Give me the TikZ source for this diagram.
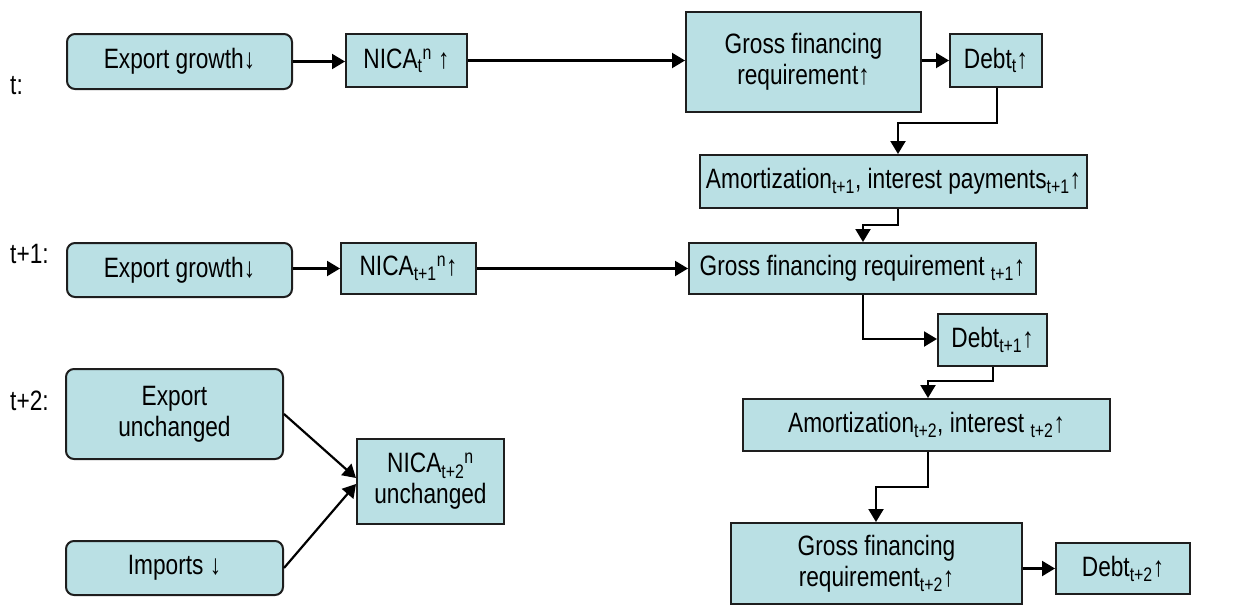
\documentclass[tikz,border=0pt]{standalone}
\usepackage{fontspec}
\setmainfont{Liberation Sans}[FakeStretch=0.81]
\usetikzlibrary{arrows.meta}
\definecolor{boxfill}{RGB}{186,224,228}
\definecolor{boxline}{RGB}{30,30,30}
\begin{document}
\begin{tikzpicture}[x=1pt,y=-1pt,
  box/.style={draw=boxline, fill=boxfill, line width=2pt, inner sep=0pt, align=center,
    font=\fontsize{28}{31}\selectfont},
  rbox/.style={box, rounded corners=8pt},
  arr/.style={line width=2.2pt, -{Triangle[length=13pt,width=15pt]}},
  lab/.style={anchor=west, inner sep=0pt, font=\fontsize{28}{31}\selectfont}]
\useasboundingbox (0,0) rectangle (1235,605);
% labels
\node[lab] (lt)  at (10,86)  {t:};
\node[lab] (lt1) at (10,254) {t+1:};
\node[lab] (lt2) at (10,401) {t+2:};
% row t
\node[rbox, minimum width=225pt, minimum height=55pt] (e1) at (179.5,61.5) {Export growth↓};
\node[box, minimum width=121pt, minimum height=53pt] (n1) at (406.5,60.5) {NICA\textsubscript{t}\textsuperscript{n} ↑};
\node[box, minimum width=235pt, minimum height=100pt] (g1) at (803.5,62) {Gross financing\\requirement↑};
\node[box, minimum width=92pt, minimum height=53pt] (d1) at (996,60.5) {Debt\textsubscript{t}↑};
\node[box, minimum width=387pt, minimum height=53pt] (a1) at (893.5,181.5) {Amortization\textsubscript{t+1}, interest payments\textsubscript{t+1}↑};
% row t+1
\node[rbox, minimum width=225pt, minimum height=54pt] (e2) at (179.5,270) {Export growth↓};
\node[box, minimum width=135pt, minimum height=51pt] (n2) at (408.5,268.5) {NICA\textsubscript{t+1}\textsuperscript{n}↑};
\node[box, minimum width=347pt, minimum height=51pt] (g2) at (862.5,268.5) {Gross financing requirement \textsubscript{t+1}↑};
\node[box, minimum width=109pt, minimum height=52pt] (d2) at (992.5,340) {Debt\textsubscript{t+1}↑};
\node[box, minimum width=367pt, minimum height=52pt] (a2) at (926.5,425) {Amortization\textsubscript{t+2}, interest \textsubscript{t+2}↑};
% row t+2
\node[rbox, minimum width=217pt, minimum height=90pt] (e3) at (174.5,414) {Export\\unchanged};
\node[rbox, minimum width=217pt, minimum height=54pt] (i3) at (174.5,568) {Imports ↓};
\node[box, minimum width=147pt, minimum height=85pt] (n3) at (430.5,481.5) {NICA\textsubscript{t+2}\textsuperscript{n}\\unchanged};
\node[box, minimum width=291pt, minimum height=81pt] (g3) at (876.5,563.5) {Gross financing\\requirement\textsubscript{t+2}↑};
\node[box, minimum width=134pt, minimum height=51pt] (d3) at (1123,568.5) {Debt\textsubscript{t+2}↑};
% junctions
\coordinate (j1a) at (997,123);
\coordinate (j1b) at (898,123);
\coordinate (j2a) at (898,225);
\coordinate (j2b) at (863,225);
\coordinate (j3) at (863,339);
\coordinate (j4a) at (993,381);
\coordinate (j4b) at (928,381);
\coordinate (j5a) at (928,487);
\coordinate (j5b) at (876,487);
% connectors
\draw[arr] (e1.east) -- (e1.east -| n1.west);
\draw[arr] (n1.east) -- (n1.east -| g1.west);
\draw[arr] (g1.east |- d1.west) -- (d1.west);
\draw[arr] (j1a |- d1.south) -- (j1a) -- (j1b) -- (j1b |- a1.north);
\draw[arr] (j2a |- a1.south) -- (j2a) -- (j2b) -- (j2b |- g2.north);
\draw[arr] (e2.east |- n2.west) -- (n2.west);
\draw[arr] (n2.east) -- (n2.east -| g2.west);
\draw[arr] (j3 |- g2.south) -- (j3) -- (j3 -| d2.west);
\draw[arr] (j4a |- d2.south) -- (j4a) -- (j4b) -- (j4b |- a2.north);
\draw[arr] (j5a |- a2.south) -- (j5a) -- (j5b) -- (j5b |- g3.north);
\draw[arr] (g3.east |- d3.west) -- (d3.west);
\draw[arr] (e3.east) -- ([yshift=3.5pt]n3.west);
\draw[arr] (i3.east) -- ([yshift=-2.5pt]n3.west);
\end{tikzpicture}
\end{document}
